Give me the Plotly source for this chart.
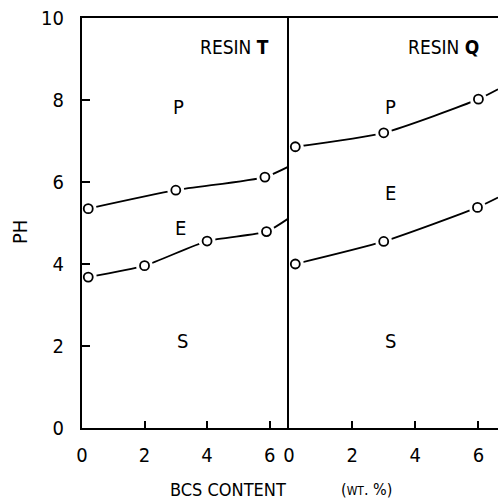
import plotly.graph_objects as go

# ---- data ----
x_max = 6.62
# Resin T
t_p_x = [0.2, 3.0, 5.85]
t_p_y = [5.35, 5.8, 6.12]
t_p_end = 6.38
t_e_x = [0.2, 2.0, 4.0, 5.9]
t_e_y = [3.68, 3.96, 4.56, 4.79]
t_e_end = 5.12
# Resin Q
q_p_x = [0.2, 3.0, 6.0]
q_p_y = [6.86, 7.2, 8.02]
q_p_end = 8.26
q_e_x = [0.2, 3.0, 5.97]
q_e_y = [4.0, 4.55, 5.38]
q_e_end = 5.62

x_ticks = [0, 2, 4, 6]
y_ticks = [0, 2, 4, 6, 8, 10]

region_labels = ["P", "E", "S"]
region_t_xy = [(3.1, 7.82), (3.15, 4.88), (3.2, 2.12)]
region_q_xy = [(3.2, 7.82), (3.2, 5.72), (3.2, 2.12)]

FONT = "Liberation Sans Narrow, DejaVu Sans Condensed, DejaVu Sans, sans-serif"

fig = go.Figure()

def add_series(xs, ys, end_y, xa, ya):
    cx = xs + [x_max]
    cy = ys + [end_y]
    fig.add_trace(go.Scatter(x=cx, y=cy, mode="lines", xaxis=xa, yaxis=ya,
                             line=dict(color="black", width=1.8, shape="spline", smoothing=0.6),
                             showlegend=False, hoverinfo="skip"))
    # white halo to make gaps around markers
    fig.add_trace(go.Scatter(x=xs, y=ys, mode="markers", xaxis=xa, yaxis=ya,
                             marker=dict(size=17, color="white", line=dict(width=0)),
                             showlegend=False, hoverinfo="skip"))
    fig.add_trace(go.Scatter(x=xs, y=ys, mode="markers", xaxis=xa, yaxis=ya,
                             marker=dict(size=9, color="white", symbol="circle",
                                         line=dict(color="black", width=1.8)),
                             showlegend=False, hoverinfo="skip"))

add_series(t_p_x, t_p_y, t_p_end, "x", "y")
add_series(t_e_x, t_e_y, t_e_end, "x", "y")
add_series(q_p_x, q_p_y, q_p_end, "x2", "y2")
add_series(q_e_x, q_e_y, q_e_end, "x2", "y2")

W, H = 498, 503
ml, mr, mt, mb = 82, 0, 18, 75
pw, ph = W - ml - mr, H - mt - mb

def px_x(p):
    return (p - ml) / pw

def px_y(p):
    return (H - mb - p) / ph

annotations = []
for lab, (ax_, ay_) in zip(region_labels, region_t_xy):
    annotations.append(dict(x=ax_, y=ay_, xref="x", yref="y", text=lab, showarrow=False,
                            font=dict(family=FONT, size=20, color="black")))
for lab, (ax_, ay_) in zip(region_labels, region_q_xy):
    annotations.append(dict(x=ax_, y=ay_, xref="x2", yref="y2", text=lab, showarrow=False,
                            font=dict(family=FONT, size=20, color="black")))
annotations.append(dict(x=4.87, y=9.3, xref="x", yref="y", text="RESIN <b>T</b>", showarrow=False,
                        font=dict(family=FONT, size=19, color="black")))
annotations.append(dict(x=4.9, y=9.3, xref="x2", yref="y2", text="RESIN <b>Q</b>", showarrow=False,
                        font=dict(family=FONT, size=19, color="black")))
annotations.append(dict(x=px_x(228), y=px_y(490), xref="paper", yref="paper", text="BCS CONTENT",
                        showarrow=False, xanchor="center", yanchor="middle",
                        font=dict(family=FONT, size=18, color="black")))
annotations.append(dict(x=px_x(366), y=px_y(490), xref="paper", yref="paper",
                        text="(<span style='font-size:12px'>WT</span>. %)", showarrow=False,
                        xanchor="center", yanchor="middle",
                        font=dict(family=FONT, size=16, color="black")))
annotations.append(dict(x=px_x(20), y=px_y(232), xref="paper", yref="paper", text="PH",
                        textangle=-90, showarrow=False, xanchor="center", yanchor="middle",
                        font=dict(family=FONT, size=20, color="black")))

d = (289 - ml) / pw

axis_common = dict(showgrid=False, zeroline=False, showline=True, linecolor="black", linewidth=2,
                   ticks="inside", tickcolor="black", tickwidth=2,
                   tickfont=dict(family=FONT, size=20, color="black"))

fig.update_layout(
    width=W, height=H,
    margin=dict(l=ml, r=mr, t=mt, b=mb, pad=0),
    paper_bgcolor="white", plot_bgcolor="white",
    showlegend=False,
    annotations=annotations,
    xaxis=dict(domain=[0, d], range=[0, x_max], tickvals=x_ticks, ticklen=7,
               mirror=True, anchor="y", ticklabelstandoff=8, **axis_common),
    xaxis2=dict(domain=[d, 1], range=[0, x_max], tickvals=x_ticks, ticklen=7,
                mirror=True, anchor="y2", ticklabelstandoff=8, **axis_common),
    yaxis=dict(range=[0, 10], tickvals=y_ticks, ticklen=8, anchor="x", mirror=False,
               ticklabelstandoff=12, **axis_common),
    yaxis2=dict(range=[0, 10], tickvals=y_ticks, ticklen=0, anchor="x2", showticklabels=False,
                matches="y", **axis_common),
)

fig.write_html("out.html")
